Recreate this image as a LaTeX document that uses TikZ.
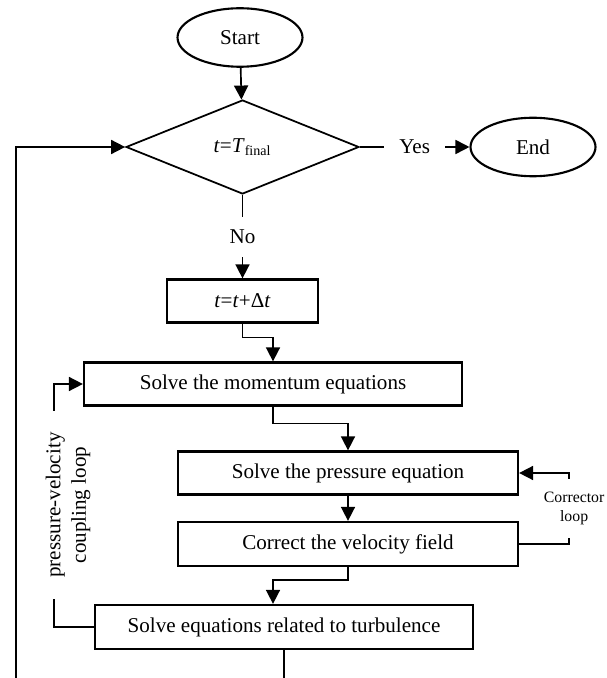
\documentclass[tikz,border=0pt]{standalone}
\usepackage{fontspec}
\setmainfont{Liberation Serif}
\usetikzlibrary{positioning,arrows.meta,shapes.geometric}
\newcommand{\txt}{\fontsize{12}{14.5}\selectfont}
\tikzset{
    flow/.style={draw,-{Triangle[length=0.28cm,width=0.28cm]},line width=0.95pt},
    term/.style={ellipse,draw,line width=1.2pt,minimum width=2.5cm,minimum height=1.17cm,inner sep=0pt,font=\txt},
    test/.style={diamond,draw,line width=1pt,minimum width=4.66cm,minimum height=1.88cm,inner sep=0pt,font=\txt},
    proc/.style={rectangle,draw,line width=1.3pt,minimum height=0.86cm,inner sep=0pt,font=\txt},
    tag/.style={fill=white,inner xsep=0.3cm,inner ysep=0.26cm,font=\txt},
    small/.style={fill=white,align=center,inner xsep=1pt,inner ysep=0.25cm,font=\fontsize{9}{11.3}\selectfont},
}

\begin{document}
\begin{tikzpicture}[x=0.02cm,y=-0.02cm]
    \path[use as bounding box,clip] (0,0) rectangle (606,678);

    \node[term] (start) at (240,37.5) {Start};
    \node[test] (check) at (242.5,147) {\textit{t}=\textit{T}\textsubscript{final}};
    \node[term] (end) at (533,147) {End};
    \node[proc,minimum width=3.02cm] (step) at (242.5,301) {\textit{t}=\textit{t}+Δ\textit{t}};
    \node[proc,minimum width=7.56cm] (mom) at (273,384) {Solve the momentum equations};
    \node[proc,minimum width=6.8cm] (pres) at (348,473) {Solve the pressure equation};
    \node[proc,minimum width=6.8cm,minimum height=0.88cm] (vel) at (348,544) {Correct the velocity field};
    \node[proc,minimum width=7.56cm,minimum height=0.88cm] (turb) at (284,627) {Solve equations related to turbulence};
    \coordinate (back) at (15.7,700);

    % main path
    \draw[flow] (start) -- (check);
    \draw[flow] (check.east) -- node[tag] {Yes} (end.west);
    \draw[flow] (check.south) -- node[tag,inner xsep=2pt] {No} (step.north);
    \draw[flow] (step.south) -- ++(0,14) -| (mom.north);
    \draw[flow] (mom.south) -- ++(0,17) -| (pres.north);
    \draw[flow] (pres) -- (vel);
    \draw[flow] (vel.south) -- ++(0,13) -| ([xshift=-0.22cm]turb.north);

    % loops
    \draw[flow] (vel.east) -- ++(50,0) |- node[small,pos=0.25,xshift=0.1cm] {Corrector\\loop} (pres.east);
    \draw[flow] (turb.west) -- ++(-40,0) |- (mom.west);
    \node[fill=white,rotate=90,align=center,inner xsep=0.42cm,inner ysep=1pt,font=\txt] (coupling) at (68,505) {pressure-velocity\\coupling loop};
    \draw[flow] (turb.south) |- (back) |- (check.west);
\end{tikzpicture}
\end{document}
